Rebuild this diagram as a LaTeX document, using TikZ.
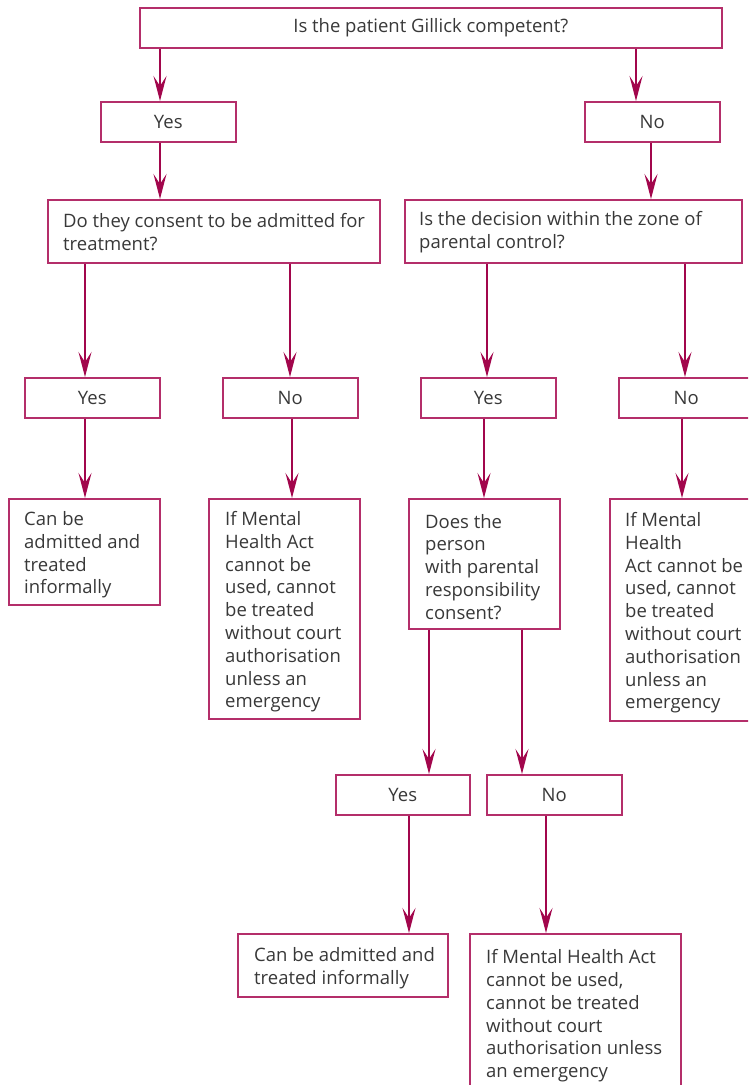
\documentclass[tikz,border=0pt]{standalone}
\usepackage{fontspec}
\setmainfont{Open Sans}
\usetikzlibrary{arrows.meta}
\definecolor{crim}{HTML}{A2064C}
\definecolor{boxc}{HTML}{B42E6A}
\definecolor{ink}{HTML}{383838}
\tikzset{
  box/.style={draw=boxc, line width=1.6pt, inner sep=0pt, anchor=north west, text=ink,
    font=\fontsize{18.5}{23}\selectfont},
  txt/.style={inner sep=0pt, anchor=west, align=left, text=ink, yshift=-3pt,
    font=\fontsize{18.5}{22.8}\selectfont},
  arr/.style={draw=crim, line width=1.4pt, -{Stealth[length=25pt,width=13pt,inset=10pt]}}
}
\begin{document}
\begin{tikzpicture}[x=1pt,y=-1pt]
\useasboundingbox (0,0) rectangle (748,1085);
\clip (0,0) rectangle (748,1085);
% boxes
\node[box, minimum width=582pt, minimum height=40pt] (top) at (139,7) {Is the patient Gillick competent?};
\node[box, minimum width=135pt, minimum height=40pt] (yes1) at (100,101) {Yes};
\node[box, minimum width=135pt, minimum height=40pt] (no1) at (584,101) {No};
\node[box, minimum width=332pt, minimum height=63pt] (q2l) at (47,199) {};
\node[txt, yshift=2pt] (q2lt) at ([xshift=16pt]q2l.west) {Do they consent to be admitted for\\treatment?};
\node[box, minimum width=337pt, minimum height=63pt] (q2r) at (404,199) {};
\node[txt, yshift=2pt] (q2rt) at ([xshift=15pt]q2r.west) {Is the decision within the zone of\\parental control?};
\node[box, minimum width=135pt, minimum height=40pt] (yes2) at (24,377) {Yes};
\node[box, minimum width=135pt, minimum height=40pt] (no2) at (222,377) {No};
\node[box, minimum width=135pt, minimum height=40pt] (yes3) at (420,377) {Yes};
\node[box, minimum width=135pt, minimum height=40pt] (no3) at (618,377) {No};
\node[box, minimum width=151pt, minimum height=106pt] (r1) at (8,498) {};
\node[txt] (r1t) at ([xshift=16pt]r1.west) {Can be\\admitted and\\treated\\informally};
\node[box, minimum width=151pt, minimum height=220pt] (r2) at (208,498) {};
\node[txt] (r2t) at ([xshift=17pt]r2.west) {If Mental\\Health Act\\cannot be\\used, cannot\\be treated\\without court\\authorisation\\unless an\\emergency};
\node[box, minimum width=151pt, minimum height=130pt] (q3) at (408,498) {};
\node[txt] (q3t) at ([xshift=17pt]q3.west) {Does the\\person\\with parental\\responsibility\\consent?};
\node[box, minimum width=151pt, minimum height=222pt] (r3) at (609,498) {};
\node[txt] (r3t) at ([xshift=16pt]r3.west) {If Mental\\Health\\Act cannot be\\used, cannot\\be treated\\without court\\authorisation\\unless an\\emergency};
\node[box, minimum width=134pt, minimum height=40pt] (yes4) at (335,774) {Yes};
\node[box, minimum width=135pt, minimum height=40pt] (no4) at (486,774) {No};
\node[box, minimum width=210pt, minimum height=63pt] (r4) at (237,933) {};
\node[txt] (r4t) at ([xshift=17pt]r4.west) {Can be admitted and\\treated informally};
\node[box, minimum width=211pt, minimum height=160pt] (r5) at (469,933) {};
\node[txt, yshift=1pt] (r5t) at ([xshift=17pt]r5.west) {If Mental Health Act\\cannot be used,\\cannot be treated\\without court\\authorisation unless\\an emergency};
% arrows
\draw[arr] (top.south -| 160,0) -- (yes1.north -| 160,0);
\draw[arr] (top.south -| 636,0) -- (no1.north -| 636,0);
\draw[arr] (yes1.south -| 160,0) -- (q2l.north -| 160,0);
\draw[arr] (no1.south -| 651,0) -- (q2r.north -| 651,0);
\draw[arr] (q2l.south -| 85,0) -- (yes2.north -| 85,0);
\draw[arr] (q2l.south -| 290,0) -- (no2.north -| 290,0);
\draw[arr] (q2r.south -| 487,0) -- (yes3.north -| 487,0);
\draw[arr] (q2r.south -| 685,0) -- (no3.north -| 685,0);
\draw[arr] (yes2.south -| 85,0) -- (r1.north -| 85,0);
\draw[arr] (no2.south -| 292,0) -- (r2.north -| 292,0);
\draw[arr] (yes3.south -| 484,0) -- (q3.north -| 484,0);
\draw[arr] (no3.south -| 682,0) -- (r3.north -| 682,0);
\draw[arr] (q3.south -| 429,0) -- (yes4.north -| 429,0);
\draw[arr] (q3.south -| 522,0) -- (no4.north -| 522,0);
\draw[arr] (yes4.south -| 409,0) -- (r4.north -| 409,0);
\draw[arr] (no4.south -| 546,0) -- (r5.north -| 546,0);
\end{tikzpicture}
\end{document}
